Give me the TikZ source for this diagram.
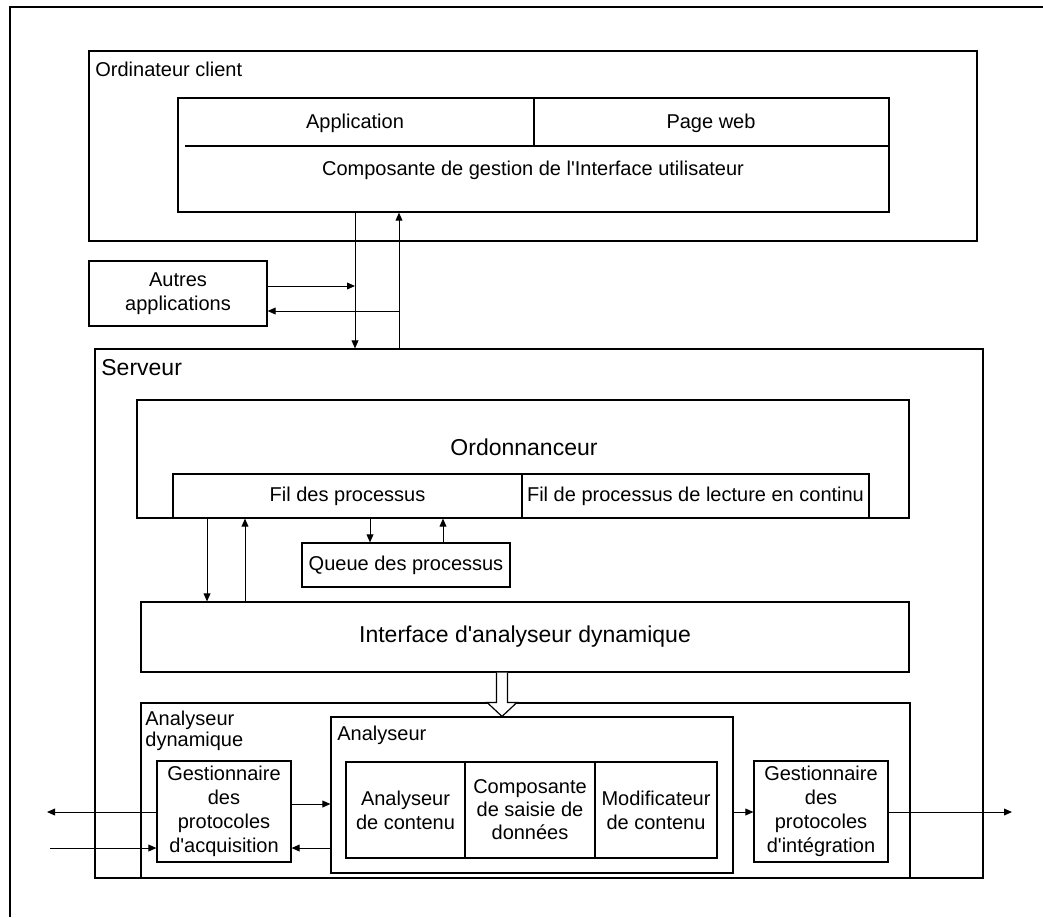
\documentclass[tikz,border=0pt]{standalone}
\usepackage{fontspec}
\setmainfont{Liberation Sans}
\usetikzlibrary{fit,calc,arrows.meta}
\newcommand{\apos}{\textquotesingle}
\begin{document}
\begin{tikzpicture}[x=0.5pt,y=-0.5pt,
  every node/.style={font=\fontsize{10}{12}\selectfont},
  box/.style={draw=black, line width=0.6pt, inner sep=0pt},
  cell/.style={draw=none, inner sep=0pt, align=center},
  big/.style={font=\fontsize{11.5}{13.8}\selectfont},
  tag/.style={inner sep=0pt, anchor=west, align=left},
  arr/.style={-{Triangle[length=4pt,width=3.4pt]}, line width=0.5pt, draw=black},
  frame/.style={line width=1.1pt, draw=black}]
\useasboundingbox (0,0) rectangle (1043,917);

% page frame (top and left edges)
\draw[frame] (1043,7) -- (10,7) -- (10,917);

% ---- client computer ----
\node[box, fit={(89,51)(977,241)}] (client) {};
\node[tag] (clientlbl) at (95,69) {Ordinateur client};
\node[box, fit={(178,98)(889,212)}] (ui) {};
\draw[line width=0.6pt] (185,146) -- (ui.east |- 0,146);
\draw[line width=0.6pt] (534,98) -- (534,146);
\node[cell] (app) at (355,123) {Application};
\node[cell] (web) at (711,123) {Page web};
\node[cell] (gui) at (533,170) {Composante de gestion de l\apos Interface utilisateur};

% ---- other applications ----
\node[box, fit={(89,261)(267,326)}] (autres) {};
\node[cell] (autrestxt) at (autres.center) {Autres\\applications};

% ---- server ----
\node[box, fit={(95,349)(983,878)}] (srv) {};
\node[tag, big] (srvlbl) at (101,368) {Serveur};

\node[box, fit={(137,400)(909,518)}] (ord) {};
\node[cell, big] (ordlbl) at (524,447) {Ordonnanceur};
\node[box, fit={(173,474)(522,518)}] (fil) {};
\node[cell] (filtxt) at (fil.center) {Fil des processus};
\node[box, fit={(522,474)(869,518)}] (fillc) {};
\node[cell] (fillctxt) at (fillc.center) {Fil de processus de lecture en continu};
\node[box, fit={(302,543)(510,587)}] (queue) {};
\node[cell] (queuetxt) at (queue.center) {Queue des processus};

\node[box, fit={(141,602)(909,672)}] (ida) {};
\node[cell, big] (idatxt) at (ida.center) {Interface d\apos analyseur dynamique};

% ---- dynamic analyser ----
\node[box, fit={(141,703)(910,878)}] (ad) {};
\node[tag, anchor=north west] (adlbl) at (145,711) {Analyseur\\[-1.5pt]dynamique};
\node[box, fit={(331,717)(733,873)}] (an) {};
\node[tag] (anlbl) at (337,735) {Analyseur};
\node[box, fit={(346,762)(465,858)}] (c1) {};
\node[cell] (c1txt) at (c1.center) {Analyseur\\de contenu};
\node[box, fit={(465,762)(595,858)}] (c2) {};
\node[cell] (c2txt) at (c2.center) {Composante\\[-0.5pt]de saisie de\\[-0.5pt]données};
\node[box, fit={(595,762)(717,858)}] (c3) {};
\node[cell] (c3txt) at (c3.center) {Modificateur\\de contenu};
\node[box, fit={(157,761)(291,862)}] (gacq) {};
\node[cell] (gacqtxt) at (gacq.center) {Gestionnaire\\des\\protocoles\\d\apos acquisition};
\node[box, fit={(754,761)(888,862)}] (gint) {};
\node[cell] (ginttxt) at (gint.center) {Gestionnaire\\des\\protocoles\\d\apos intégration};

% ---- connector guides ----
\coordinate (xdn) at (355,0);
\coordinate (xup) at (399,0);
\coordinate (yin) at (0,286);
\coordinate (yout) at (0,311);
\coordinate (xa) at (207,0);
\coordinate (xb) at (245,0);
\coordinate (xq1) at (370,0);
\coordinate (xq2) at (443,0);
\coordinate (xh) at (502,0);
\coordinate (ya) at (0,812);
\coordinate (yb) at (0,848);
\coordinate (yc) at (0,804);
\coordinate (outL) at (47,812);
\coordinate (inL) at (50,848);
\coordinate (outR) at (1012,812);

% client <-> server
\draw[arr] (ui.south -| xdn) -- (srv.north -| xdn);
\draw[arr] (srv.north -| xup) -- (ui.south -| xup);
\draw[arr] (autres.east |- yin) -- (xdn |- yin);
\draw[arr] (xup |- yout) -- (autres.east |- yout);

% scheduler
\draw[arr] (fil.south -| xa) -- (ida.north -| xa);
\draw[arr] (ida.north -| xb) -- (fil.south -| xb);
\draw[arr] (fil.south -| xq1) -- (queue.north -| xq1);
\draw[arr] (queue.north -| xq2) -- (fil.south -| xq2);

% hollow arrow from interface to analyser
\coordinate (ht) at (ida.south -| xh);
\coordinate (hm) at (ad.north -| xh);
\coordinate (hb) at (an.north -| xh);
\draw[line width=0.6pt, fill=white]
  ($(ht)+(-5.5,0)$) -- ($(hm)+(-5.5,0)$) -- ($(hm)+(-15,0)$) -- (hb)
  -- ($(hm)+(15,0)$) -- ($(hm)+(5.5,0)$) -- ($(ht)+(5.5,0)$);

% protocol handlers
\draw[arr] (gacq.west |- ya) -- (outL);
\draw[arr] (inL) -- (gacq.west |- yb);
\draw[arr] (gacq.east |- yc) -- (an.west |- yc);
\draw[arr] (an.west |- yb) -- (gacq.east |- yb);
\draw[arr] (an.east |- ya) -- (gint.west |- ya);
\draw[arr] (gint.east |- ya) -- (outR);
\end{tikzpicture}
\end{document}
